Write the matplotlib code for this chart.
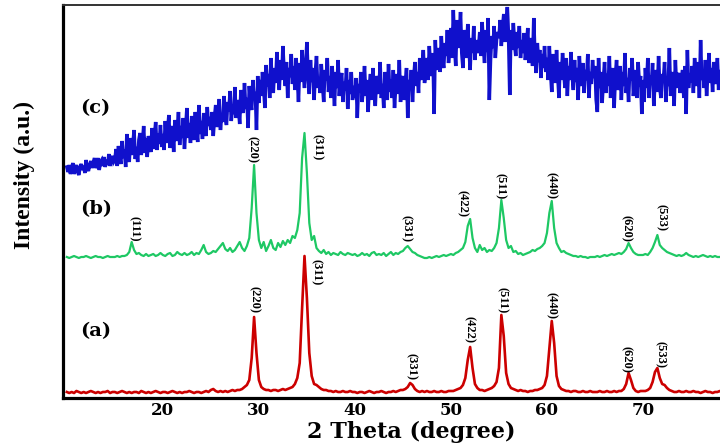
import numpy as np
import matplotlib
matplotlib.use("Agg")
import matplotlib.pyplot as plt

# 2-theta grids of the scans
two_theta = np.arange(10.0, 80.0, 0.25)        # samples (a) and (b)
two_theta_c = np.arange(10.0, 80.0, 0.125)     # sample (c), finer step

# (a) crystalline sample, intensity in arbitrary units (offset traces)
intensity_a = [
    6, 5, 6, 5, 7, 6, 5, 6, 5, 6, 7, 6, 5, 6, 5, 6, 6, 7, 5, 6,
    6, 5, 6, 7, 6, 5, 6, 5, 6, 6, 5, 7, 6, 5, 6, 5, 6, 7, 6, 5,
    6, 6, 5, 6, 7, 6, 5, 6, 5, 6, 6, 7, 6, 5, 6, 6, 5, 6, 7, 6,
    8, 9, 7, 6, 7, 6, 7, 6, 7, 8, 7, 8, 8, 9, 11, 13, 18, 40, 81, 45,
    18, 11, 9, 8, 8, 7, 8, 8, 7, 8, 9, 8, 9, 10, 11, 14, 20, 35, 90, 142,
    100, 45, 22, 14, 13, 11, 9, 8, 8, 7, 7, 6, 7, 6, 6, 7, 6, 6, 7, 6,
    6, 5, 6, 6, 5, 6, 7, 6, 5, 6, 6, 7, 6, 5, 6, 6, 7, 6, 7, 8,
    8, 9, 11, 15, 13, 9, 7, 6, 7, 6, 7, 6, 6, 7, 6, 6, 7, 6, 6, 7,
    7, 7, 8, 9, 10, 13, 20, 38, 51, 30, 14, 10, 8, 8, 7, 8, 9, 10, 12, 16,
    30, 83, 62, 25, 14, 10, 9, 8, 7, 8, 7, 7, 6, 7, 7, 8, 8, 9, 10, 13,
    22, 50, 77, 55, 22, 12, 9, 8, 7, 7, 6, 7, 7, 6, 6, 7, 6, 6, 7, 6,
    6, 6, 7, 6, 6, 7, 6, 6, 7, 6, 7, 7, 9, 14, 25, 18, 10, 7, 6, 7,
    7, 7, 8, 10, 16, 26, 30, 20, 14, 13, 10, 8, 7, 6, 6, 7, 6, 6, 7, 6,
    6, 7, 6, 6, 5, 6, 7, 6, 6, 5, 6, 6, 7, 6, 5, 6, 6, 6, 7, 6,
]

# (b) partially crystalline sample
intensity_b = [
    141, 140, 141, 142, 141, 140, 141, 141, 142, 141, 140, 141, 142, 141, 141, 140, 141, 142, 141, 141,
    141, 142, 141, 142, 142, 143, 146, 156, 148, 144, 145, 143, 142, 144, 142, 143, 144, 142, 143, 145,
    143, 142, 144, 145, 142, 143, 146, 144, 143, 145, 143, 144, 146, 143, 145, 144, 148, 153, 146, 144,
    145, 147, 146, 149, 152, 155, 149, 147, 150, 146, 148, 152, 156, 150, 147, 152, 160, 190, 233, 185,
    158, 150, 156, 147, 152, 158, 150, 148, 155, 151, 157, 153, 158, 155, 162, 160, 168, 185, 240, 265,
    225, 175, 158, 162, 150, 147, 145, 148, 144, 146, 143, 145, 144, 143, 146, 144, 143, 145, 144, 143,
    144, 142, 143, 145, 143, 144, 142, 145, 146, 143, 144, 143, 145, 142, 144, 146, 143, 145, 144, 146,
    147, 150, 152, 149, 146, 145, 143, 142, 141, 140, 140, 141, 140, 141, 142, 141, 142, 143, 142, 143,
    144, 143, 145, 146, 148, 150, 156, 172, 179, 160, 150, 146, 153, 148, 150, 146, 148, 147, 150, 155,
    170, 198, 180, 158, 150, 152, 146, 147, 144, 145, 143, 144, 145, 146, 148, 147, 149, 150, 152, 155,
    165, 185, 197, 170, 155, 150, 146, 147, 145, 144, 143, 142, 142, 141, 142, 141, 141, 140, 141, 141,
    141, 142, 141, 142, 143, 142, 143, 144, 143, 144, 145, 144, 146, 149, 155, 150, 146, 144, 143, 143,
    143, 144, 143, 146, 150, 156, 163, 153, 150, 148, 146, 145, 144, 143, 142, 143, 142, 143, 145, 143,
    142, 141, 142, 141, 142, 143, 142, 141, 142, 141, 142, 141, 141, 142, 141, 142, 141, 141, 142, 141,
]

# (c) amorphous sample
intensity_c = [
    231, 226, 233, 224, 229, 235, 224, 229, 233, 226,
    223, 231, 234, 228, 232, 225, 238, 230, 227, 233,
    237, 230, 235, 240, 230, 233, 240, 228, 236, 238,
    232, 241, 231, 238, 233, 244, 232, 239, 242, 236,
    238, 249, 232, 252, 242, 234, 257, 240, 248, 231,
    264, 244, 236, 260, 243, 253, 268, 239, 251, 236,
    258, 265, 243, 254, 272, 245, 260, 241, 262, 254,
    246, 270, 249, 261, 276, 248, 264, 254, 273, 251,
    264, 248, 277, 255, 268, 283, 250, 265, 272, 246,
    278, 257, 267, 286, 253, 272, 260, 280, 249, 270,
    290, 260, 275, 255, 282, 266, 258, 286, 270, 256,
    293, 264, 277, 259, 285, 270, 262, 291, 272, 281,
    268, 286, 262, 280, 293, 271, 277, 299, 268, 284,
    276, 302, 281, 273, 296, 287, 307, 277, 290, 284,
    311, 280, 298, 290, 274, 308, 293, 285, 315, 289,
    300, 270, 312, 296, 288, 318, 299, 306, 268, 322,
    295, 318, 302, 326, 310, 290, 333, 312, 324, 300,
    340, 318, 305, 330, 315, 346, 322, 308, 338, 318,
    352, 326, 312, 336, 300, 330, 321, 344, 314, 332,
    308, 340, 322, 296, 335, 316, 348, 325, 310, 333,
    356, 322, 304, 338, 316, 330, 298, 325, 342, 310,
    320, 305, 334, 314, 296, 328, 318, 340, 306, 322,
    300, 332, 315, 292, 326, 310, 338, 302, 318, 325,
    296, 316, 308, 330, 289, 318, 304, 326, 298, 312,
    300, 320, 280, 314, 306, 326, 296, 310, 332, 302,
    318, 286, 312, 324, 298, 330, 308, 292, 322, 316,
    304, 336, 300, 314, 290, 326, 310, 298, 334, 306,
    318, 300, 328, 290, 312, 324, 304, 338, 296, 316,
    322, 298, 314, 330, 280, 318, 310, 328, 296, 320,
    336, 312, 326, 305, 340, 318, 330, 348, 315, 325,
    340, 318, 352, 330, 322, 345, 284, 358, 328, 340,
    350, 326, 362, 338, 330, 355, 342, 368, 335, 350,
    370, 340, 388, 352, 332, 378, 350, 362, 386, 345,
    330, 368, 355, 340, 374, 352, 328, 360, 345, 372,
    338, 358, 345, 350, 366, 342, 376, 352, 335, 368,
    346, 380, 298, 338, 362, 350, 372, 340, 358, 366,
    360, 378, 352, 370, 384, 356, 374, 391, 362, 303,
    368, 348, 375, 355, 342, 366, 350, 372, 340, 358,
    345, 365, 338, 352, 370, 335, 348, 360, 332, 380,
    342, 325, 355, 336, 348, 320, 344, 330, 352, 326,
    340, 318, 352, 326, 306, 344, 330, 315, 348, 322,
    300, 336, 318, 345, 326, 310, 340, 302, 332, 318,
    346, 322, 308, 338, 316, 330, 298, 342, 320, 312,
    335, 305, 328, 318, 344, 300, 326, 314, 338, 320,
    332, 298, 286, 340, 310, 326, 295, 318, 336, 305,
    324, 312, 342, 300, 318, 330, 290, 322, 338, 308,
    316, 332, 298, 326, 312, 345, 305, 320, 296, 330,
    318, 340, 302, 314, 328, 300, 336, 312, 322, 284,
    318, 296, 330, 310, 340, 300, 322, 314, 335, 292,
    316, 328, 306, 342, 310, 300, 324, 318, 336, 296,
    320, 312, 350, 302, 326, 316, 292, 338, 310, 322,
    325, 305, 318, 328, 300, 332, 284, 348, 310, 324,
    316, 332, 305, 340, 322, 312, 336, 300, 358, 318,
    326, 310, 338, 302, 324, 345, 315, 330, 306, 336,
    322, 314, 340, 308, 328, 318, 350, 312, 335, 320,
    326, 342, 316, 330, 322, 338, 320, 334, 325, 330,
]

sample_names = ["(a)", "(b)", "(c)"]
hkl_a = ["(220)", "(311)", "(331)", "(422)", "(511)", "(440)", "(620)", "(533)"]
hkl_b = ["(111)", "(220)", "(311)", "(331)", "(422)", "(511)", "(440)", "(620)", "(533)"]
x_ticks = [20, 30, 40, 50, 60, 70]

# label anchor points (2-theta, height) for the annotations
hkl_a_xy = [(29.5, 98), (36.0, 126), (45.9, 32), (51.9, 68), (55.3, 98),
            (60.4, 93), (68.3, 39), (71.8, 44)]
hkl_b_xy = [(17.0, 169), (29.3, 248), (36.1, 251), (45.3, 170), (51.2, 195),
            (55.1, 212), (60.4, 213), (68.3, 170), (71.9, 181)]
sample_xy = [(13.0, 67), (13.0, 189), (13.0, 290)]

fig = plt.figure(figsize=(7.2, 4.44), dpi=100)
ax = fig.add_axes([63 / 720, 46 / 444, 676 / 720, 393 / 444])

ax.plot(two_theta_c, intensity_c, color="#1010cc", lw=2.5, solid_joinstyle="miter")
ax.plot(two_theta, intensity_b, color="#1ec864", lw=1.6)
ax.plot(two_theta, intensity_a, color="#cc0000", lw=1.9)

ax.set_xlim(9.6, 80)
ax.set_ylim(0, 393)
ax.set_yticks([])
ax.set_xticks(x_ticks)
ax.set_xticklabels([str(t) for t in x_ticks], fontfamily="DejaVu Serif",
                   fontweight="bold", fontsize=12)
ax.tick_params(axis="x", length=0, pad=3)

for side in ("left", "bottom"):
    ax.spines[side].set_linewidth(2.3)
    ax.spines[side].set_color("black")
ax.spines["top"].set_linewidth(1.4)
ax.spines["top"].set_color("#333333")
ax.spines["right"].set_visible(False)

ax.set_xlabel("2 Theta (degree)", fontfamily="DejaVu Serif", fontweight="bold",
              fontsize=16)
ax.xaxis.set_label_coords(0.515, -0.086)
ax.xaxis.label.set_va("center")

ax.set_ylabel("Intensity (a.u.)", fontfamily="Liberation Serif", fontweight="bold",
              fontsize=17)
ax.yaxis.set_label_coords(-0.0577, 0.567)
ax.yaxis.label.set_va("center")

for name, (x, y) in zip(sample_names, sample_xy):
    ax.text(x, y, name, fontfamily="DejaVu Serif", fontweight="bold", fontsize=14,
            ha="center", va="center")

for labels, positions in ((hkl_a, hkl_a_xy), (hkl_b, hkl_b_xy)):
    for lab, (x, y) in zip(labels, positions):
        ax.text(x, y, lab, rotation=-90, fontfamily="Liberation Serif",
                fontweight="bold", fontsize=9, ha="center", va="center")

fig.savefig("out.png", dpi=100)
